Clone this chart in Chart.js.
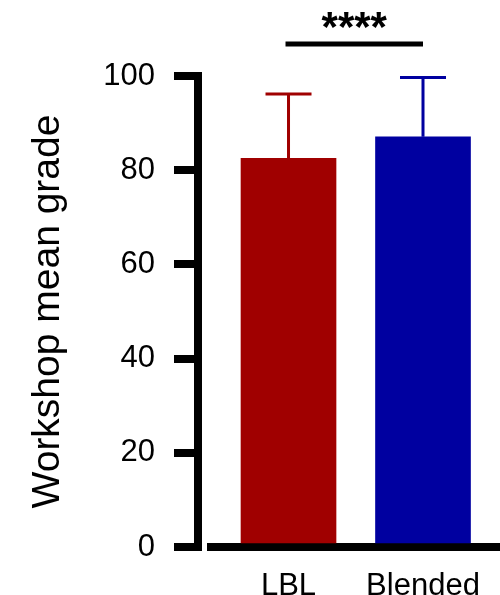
<!DOCTYPE html>
<html><head><meta charset="utf-8">
<script src="https://cdn.jsdelivr.net/npm/chart.js@4"></script>
<style>html,body{margin:0;padding:0;background:#fff}#wrap{width:500px;height:595px;position:relative}</style>
</head><body><div id="wrap"><canvas id="c"></canvas></div>
<script>
// ---- data ----
const categories = ['LBL', 'Blended'];
const positions = [1, 2];
const means = [82.5, 87.1];
const errUpper = [96.2, 99.7];
const barColors = ['#a00000', '#0000a0'];
const yTicks = [0, 20, 40, 60, 80, 100];
const yTitle = 'Workshop mean grade';
const sigLabel = '****';
const sigLevel = 106.8;

const FONT = "'Liberation Sans', Arial, sans-serif";

const errorBarPlugin = {
  id: 'errorBars',
  afterDatasetsDraw(chart) {
    const {ctx, scales: {x, y}} = chart;
    ctx.save();
    ctx.lineWidth = 3;
    ctx.lineCap = 'butt';
    positions.forEach((p, i) => {
      const px = x.getPixelForValue(p);
      const yTop = y.getPixelForValue(errUpper[i]);
      const yMean = y.getPixelForValue(means[i]);
      ctx.strokeStyle = barColors[i];
      ctx.beginPath();
      ctx.moveTo(px, yMean);
      ctx.lineTo(px, yTop);
      ctx.moveTo(px - 23, yTop);
      ctx.lineTo(px + 23, yTop);
      ctx.stroke();
    });
    ctx.restore();
  },
  afterDraw(chart) {
    const {ctx, scales: {x, y}} = chart;
    const x1 = x.getPixelForValue(positions[0]) - 3;
    const x2 = x.getPixelForValue(positions[1]);
    const yy = y.getPixelForValue(sigLevel);
    ctx.save();
    ctx.strokeStyle = '#000';
    ctx.lineWidth = 5;
    ctx.beginPath();
    ctx.moveTo(x1, yy);
    ctx.lineTo(x2, yy);
    ctx.stroke();
    ctx.fillStyle = '#000';
    ctx.font = "bold 42px " + FONT;
    ctx.textAlign = 'center';
    ctx.textBaseline = 'alphabetic';
    ctx.fillText(sigLabel, (x1 + x2) / 2, yy - 3);
    ctx.restore();
  }
};

new Chart(document.getElementById('c'), {
  type: 'bar',
  data: {
    datasets: [{
      data: positions.map((p, i) => ({x: p, y: means[i]})),
      backgroundColor: barColors,
      borderWidth: 0,
      barThickness: 95
    }]
  },
  options: {
    responsive: true,
    maintainAspectRatio: false,
    animation: false,
    layout: {padding: {top: 76, right: 0, bottom: 0, left: 0}},
    plugins: {legend: {display: false}, tooltip: {enabled: false}},
    scales: {
      x: {
        type: 'linear',
        offset: false,
        min: 0.327,
        max: 2.5725,
        afterBuildTicks: s => { s.ticks = positions.map(v => ({value: v})); },
        afterFit: s => { s.height = 48; },
        ticks: {
          callback: v => categories[positions.indexOf(v)],
          font: {family: FONT, size: 31, lineHeight: 1},
          color: '#000',
          padding: 16,
          maxRotation: 0,
          autoSkip: false
        },
        grid: {display: false},
        border: {display: false}
      },
      y: {
        min: 0,
        max: 100,
        z: 1,
        afterBuildTicks: s => { s.ticks = yTicks.map(v => ({value: v})); },
        afterFit: s => { s.width = 198; },
        ticks: {
          font: {family: FONT, size: 31},
          color: '#000',
          padding: 19
        },
        grid: {
          display: true,
          drawOnChartArea: true,
          drawTicks: true,
          tickLength: 24,
          tickWidth: 8,
          tickColor: '#000',
          color: '#000',
          lineWidth: c => (c.tick && c.tick.value === 0 ? 8 : 0)
        },
        border: {display: true, width: 8, color: '#000', dash: [0, 5, 1000]},
        title: {
          display: true,
          text: yTitle,
          color: '#000',
          font: {family: FONT, size: 39},
          padding: {top: 25, bottom: 0}
        }
      }
    }
  },
  plugins: [errorBarPlugin]
});
</script>
</body></html>
